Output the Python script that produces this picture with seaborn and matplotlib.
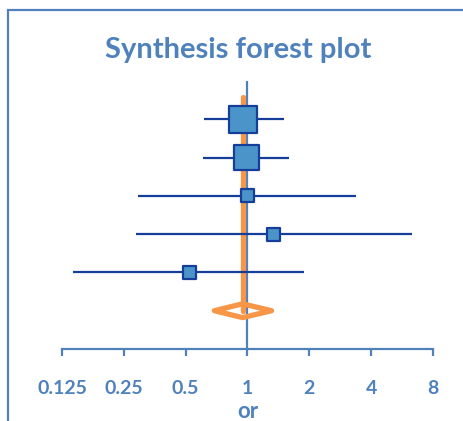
import matplotlib
matplotlib.use("Agg")
import matplotlib.pyplot as plt
import seaborn as sns
import pandas as pd
import numpy as np
from matplotlib.patches import Polygon, Rectangle

sns.set_theme(style="white")
plt.rcParams['font.family'] = ['Lato', 'DejaVu Sans']

# ---- data ----
studies = ["Study 1", "Study 2", "Study 3", "Study 4", "Study 5"]
odds_ratio = [0.951, 0.99, 1.0, 1.34, 0.523]
ci_low = [0.611, 0.605, 0.292, 0.286, 0.141]
ci_high = [1.50, 1.60, 3.38, 6.33, 1.89]
weights = [30.0, 26.0, 6.0, 6.0, 6.0]
pooled_or = 0.946
pooled_low = 0.69
pooled_high = 1.31
tick_values = [0.125, 0.25, 0.5, 1, 2, 4, 8]
tick_labels = ["0.125", "0.25", "0.5", "1", "2", "4", "8"]
title = "Synthesis forest plot"
xlabel = "or"

df = pd.DataFrame({"study": studies, "or": odds_ratio, "lo": ci_low,
                   "hi": ci_high, "w": weights,
                   "row": np.arange(1, len(studies) + 1)})

BLUE = "#4F81BD"
DARK = "#153E9A"
FILL = "#4A94CA"
ORANGE = "#F79646"

fig = plt.figure(figsize=(4.64, 4.21), dpi=100)
# outer border (cropped chart frame)
fig.add_artist(Rectangle((8 / 464, -0.1), 1.2, 1 - 10 / 421 + 0.1,
                         transform=fig.transFigure, fill=False,
                         edgecolor=BLUE, lw=1.6))

ax = fig.add_axes([62 / 464, 72 / 421, (433 - 62) / 464, (349 - 81) / 421])
ax.set_xscale("log", base=2)
ax.set_xlim(0.125, 8)
ax.set_ylim(7, 0)

# reference line at 1
ax.axvline(1, color=BLUE, lw=1.6, zorder=1)

# pooled estimate line + diamond
ax.plot([pooled_or, pooled_or], [0.42, 6], color=ORANGE, lw=3.8,
        solid_capstyle="round", zorder=2)
diamond = Polygon([(pooled_low, 6), (pooled_or, 5.82), (pooled_high, 6),
                   (pooled_or, 6.18)], closed=True, fill=False,
                  edgecolor=ORANGE, lw=3.8, joinstyle="round", zorder=3)
ax.add_patch(diamond)

# confidence intervals
ax.hlines(df["row"], df["lo"], df["hi"], color=DARK, lw=1.6, zorder=3)

# study squares
sns.scatterplot(data=df, x="or", y="row", size="w", sizes=(85, 390),
                marker="s", color=FILL, edgecolor=DARK, linewidth=1.6,
                legend=False, ax=ax, zorder=4)

for s in ["top", "right", "left"]:
    ax.spines[s].set_visible(False)
ax.spines["bottom"].set_color(BLUE)
ax.spines["bottom"].set_linewidth(1.6)
ax.set_yticks([])
ax.set_xticks(tick_values)
ax.set_xticklabels(tick_labels)
ax.minorticks_off()
ax.tick_params(axis="x", which="major", bottom=True, direction="out",
               length=5, width=1.6, color=BLUE, pad=17, labelsize=14,
               labelcolor=BLUE)
for lbl in ax.get_xticklabels():
    lbl.set_fontweight("bold")
ax.set_ylabel("")
ax.set_xlabel(xlabel, fontsize=16, fontweight="bold", color=BLUE, labelpad=3)
ax.patch.set_alpha(0)

fig.text(238 / 464, 1 - 50 / 421, title, ha="center", va="center",
         fontsize=21, fontweight="bold", color=BLUE)

fig.savefig("out.png", dpi=100)
